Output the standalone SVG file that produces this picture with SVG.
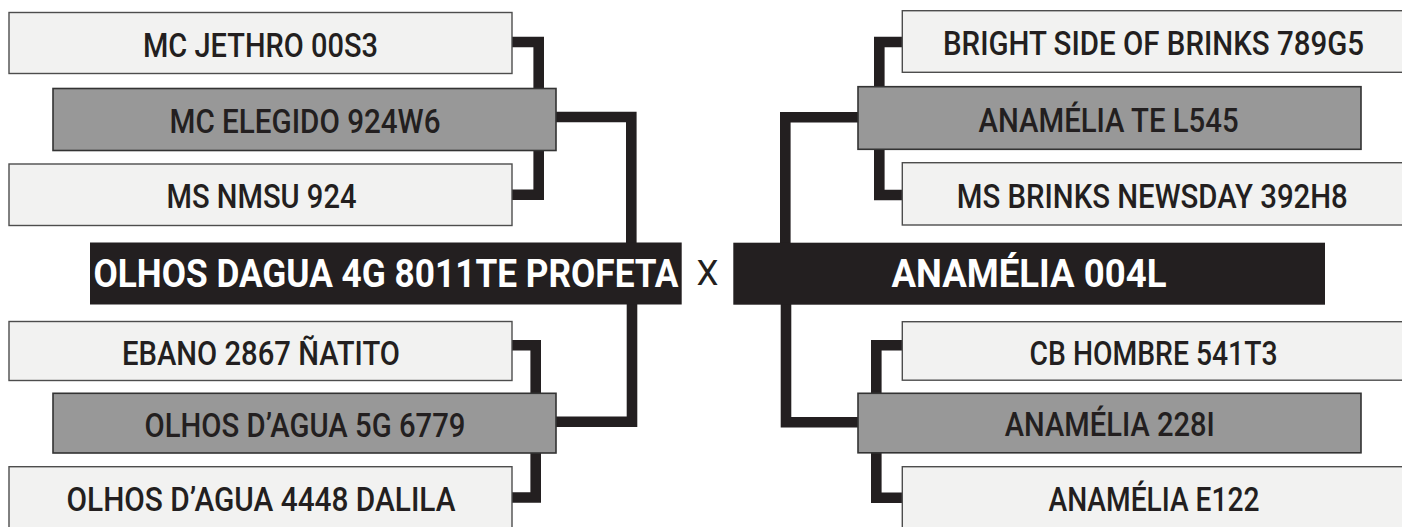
<svg xmlns="http://www.w3.org/2000/svg" width="1402" height="527" viewBox="0 0 1402 527">
  <style>
    .lt { fill: #f2f2f1; stroke: #4d4d4d; stroke-width: 1.4; }
    .gr { fill: #989898; stroke: #333333; stroke-width: 1.6; }
    .bk { fill: #231f20; }
    .t { font-family: Roboto, "Liberation Sans", sans-serif; font-size: 34px; font-weight: 500; fill: #231f20; text-anchor: middle; }
    .tb { font-family: Roboto, "Liberation Sans", sans-serif; font-size: 38px; font-weight: bold; fill: #ffffff; text-anchor: middle; }
    .cn { fill: none; stroke: #231f20; stroke-width: 10.6; stroke-linejoin: miter; stroke-linecap: butt; }
  </style>
  <rect width="1402" height="527" fill="#ffffff"/>
  <g id="connectors">
    <path class="cn" d="M510,42 H538.7 V90"/>
    <path class="cn" d="M510,194.7 H538.7 V149"/>
    <path class="cn" d="M554,117 H631.3 V244"/>
    <path class="cn" d="M632,303 V421.7 H554"/>
    <path class="cn" d="M510,345.3 H535.7 V395"/>
    <path class="cn" d="M535.7,451 V497.5 H510"/>
    <path class="cn" d="M904,42 H879.3 V88"/>
    <path class="cn" d="M904,195 H879.3 V148"/>
    <path class="cn" d="M860,117.3 H785.3 V244"/>
    <path class="cn" d="M786,303 V422.2 H860"/>
    <path class="cn" d="M904,345.3 H876.3 V395"/>
    <path class="cn" d="M876.3,451 V497.8 H904"/>
  </g>
  <g id="n-jethro">
    <rect class="lt" x="9" y="12.5" width="503" height="61"/>
    <text class="t" x="260.5" y="56.5" textLength="235" lengthAdjust="spacingAndGlyphs">MC JETHRO 00S3</text>
  </g>
  <g id="n-elegido">
    <rect class="gr" x="53" y="88.5" width="503" height="62"/>
    <text class="t" x="305" y="132.5" textLength="271" lengthAdjust="spacingAndGlyphs">MC ELEGIDO 924W6</text>
  </g>
  <g id="n-nmsu">
    <rect class="lt" x="9" y="164" width="503" height="61.5"/>
    <text class="t" x="261.5" y="208" textLength="190" lengthAdjust="spacingAndGlyphs">MS NMSU 924</text>
  </g>
  <g id="n-profeta">
    <rect class="bk" x="90" y="242.5" width="591.7" height="62"/>
    <text class="tb" x="386" y="286.5" textLength="585" lengthAdjust="spacingAndGlyphs">OLHOS DAGUA 4G 8011TE PROFETA</text>
  </g>
  <g id="n-ebano">
    <rect class="lt" x="9" y="321.5" width="503" height="59"/>
    <text class="t" x="261" y="364.5" textLength="278" lengthAdjust="spacingAndGlyphs">EBANO 2867 ÑATITO</text>
  </g>
  <g id="n-olhos5g">
    <rect class="gr" x="53" y="393.3" width="503" height="59.7"/>
    <text class="t" x="305" y="436.5" textLength="321" lengthAdjust="spacingAndGlyphs">OLHOS D’AGUA 5G 6779</text>
  </g>
  <g id="n-dalila">
    <rect class="lt" x="9" y="466.7" width="503" height="62"/>
    <text class="t" x="261" y="511" textLength="389" lengthAdjust="spacingAndGlyphs">OLHOS D’AGUA 4448 DALILA</text>
  </g>
  <g id="vs">
    <text class="t" x="707.5" y="285" style="font-size:35px;font-weight:normal">X</text>
  </g>
  <g id="n-bright">
    <rect class="lt" x="902.3" y="10.7" width="503" height="61.6"/>
    <text class="t" x="1153.5" y="55" textLength="421" lengthAdjust="spacingAndGlyphs">BRIGHT SIDE OF BRINKS 789G5</text>
  </g>
  <g id="n-te">
    <rect class="gr" x="858" y="86.7" width="503" height="62.6"/>
    <text class="t" x="1108.6" y="131.6" textLength="260" lengthAdjust="spacingAndGlyphs">ANAMÉLIA TE L545</text>
  </g>
  <g id="n-newsday">
    <rect class="lt" x="902.3" y="162.7" width="503" height="62.3"/>
    <text class="t" x="1152.3" y="207.8" textLength="391" lengthAdjust="spacingAndGlyphs">MS BRINKS NEWSDAY 392H8</text>
  </g>
  <g id="n-004l">
    <rect class="bk" x="733.3" y="242.7" width="591.7" height="62"/>
    <text class="tb" x="1029" y="286.5" textLength="275" lengthAdjust="spacingAndGlyphs">ANAMÉLIA 004L</text>
  </g>
  <g id="n-hombre">
    <rect class="lt" x="902.3" y="321.7" width="503" height="58.5"/>
    <text class="t" x="1153.5" y="364.5" textLength="248" lengthAdjust="spacingAndGlyphs">CB HOMBRE 541T3</text>
  </g>
  <g id="n-228i">
    <rect class="gr" x="858" y="393.3" width="503" height="59.5"/>
    <text class="t" x="1109.8" y="436.3" textLength="210" lengthAdjust="spacingAndGlyphs">ANAMÉLIA 228I</text>
  </g>
  <g id="n-e122">
    <rect class="lt" x="902.3" y="466.7" width="503" height="62"/>
    <text class="t" x="1154" y="511" textLength="211" lengthAdjust="spacingAndGlyphs">ANAMÉLIA E122</text>
  </g>
</svg>
